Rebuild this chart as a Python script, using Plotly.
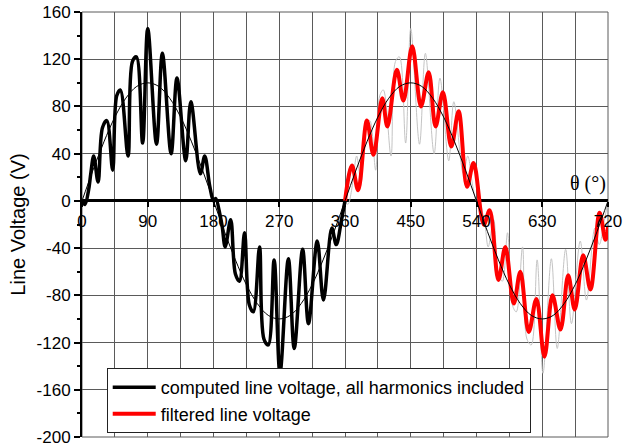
import plotly.graph_objects as go

# Computed line voltage, all harmonics (one period, 0..360 deg)
black_deg = [0, 4, 9, 12, 16, 22, 28, 34, 42, 47.5, 52.5, 63, 69, 74.5, 83, 90, 102, 110, 122, 130, 142, 149, 162, 168, 175, 180,
             183, 189, 192, 196, 203.5, 210, 215.5, 222.5, 229, 234.5, 243, 249, 255, 263, 271, 282.5, 290.5, 302, 310, 322, 330.5, 342, 348, 355.5, 360]
black_v = [0, -3, 9, 23, 38, 16, 62, 68, 26, 89, 94, 38, 118, 122, 49, 146, 48, 125, 40, 104, 34, 84, 23, 38, 12, 0,
           2, -12, -22, -39, -16, -62, -68, -27, -88, -94, -39, -117, -122, -50, -146, -49, -125, -41, -104, -34, -84, -23, -37, -15, 0]

# Filtered line voltage (360..720 deg)
red_deg = [360, 369.5, 378, 390, 399, 411, 418, 431, 440, 452, 464, 474.5, 484, 494, 505.5, 515.5, 527, 536,
           550, 558, 570, 579.5, 591, 600, 611.5, 622, 633, 644, 655, 665.5, 674.5, 686, 696, 708.5, 716.5, 720]
red_v = [0, 30, 9, 68, 39, 87, 63, 111, 85, 131, 80, 109, 63, 92, 46, 76, 12, 32,
         -20, -8, -67, -39, -87, -60, -111, -83, -132, -80, -109, -63, -92, -46, -75, -10, -33, -22]

# Fundamental (thin black), read every 15 deg
fund_deg = list(range(0, 721, 15))
fund_v = [0, 26, 50, 71, 87, 97, 100, 97, 87, 71, 50, 26,
          0, -26, -50, -71, -87, -97, -100, -97, -87, -71, -50, -26,
          0, 26, 50, 71, 87, 97, 100, 97, 87, 71, 50, 26,
          0, -26, -50, -71, -87, -97, -100, -97, -87, -71, -50, -26, 0]

x_ticks = [0, 90, 180, 270, 360, 450, 540, 630, 720]
y_ticks = [-200, -160, -120, -80, -40, 0, 40, 80, 120, 160]

FONT = "Liberation Sans, Arial, sans-serif"
GRID = "#5a5a5a"

fig = go.Figure()
# grey copy of the unfiltered waveform in the second period
fig.add_trace(go.Scatter(x=[d + 360 for d in black_deg], y=black_v, mode="lines",
                         line=dict(color="#c4c4c4", width=1, shape="spline", smoothing=1),
                         showlegend=False, hoverinfo="skip"))
fig.add_trace(go.Scatter(x=red_deg, y=red_v, mode="lines",
                         line=dict(color="#ff0000", width=4, shape="spline", smoothing=1),
                         name="filtered line voltage", legendrank=2))
fig.add_trace(go.Scatter(x=black_deg, y=black_v, mode="lines",
                         line=dict(color="#000000", width=3.5, shape="spline", smoothing=1),
                         name="computed line voltage, all harmonics included", legendrank=1))
fig.add_trace(go.Scatter(x=fund_deg, y=fund_v, mode="lines",
                         line=dict(color="#000000", width=1, shape="spline", smoothing=1),
                         showlegend=False, hoverinfo="skip"))

fig.update_layout(
    width=624, height=448,
    margin=dict(l=82, r=16, t=12, b=11, autoexpand=False),
    paper_bgcolor="white", plot_bgcolor="white",
    font=dict(family=FONT, size=17, color="black"),
    showlegend=True,
    legend=dict(x=0.047, y=0.162, xanchor="left", yanchor="top",
                bgcolor="white", bordercolor="#222", borderwidth=1,
                font=dict(size=18, family=FONT), traceorder="normal",
                itemwidth=43, tracegroupgap=0),
    xaxis=dict(range=[0, 720], tickvals=x_ticks, ticktext=[str(v) for v in x_ticks],
               showgrid=True, gridcolor=GRID, gridwidth=1, automargin=False,
               minor=dict(dtick=45, tick0=0, showgrid=True, gridcolor=GRID, gridwidth=1),
               anchor="free", position=200 / 360, showline=False, zeroline=False,
               ticks="outside", ticklen=5, tickwidth=2, tickcolor="black",
               tickfont=dict(size=17, family=FONT)),
    yaxis=dict(range=[-200, 160], tickvals=y_ticks, ticktext=[str(v) for v in y_ticks],
               showgrid=True, gridcolor=GRID, gridwidth=1, automargin=False,
               showline=True, linecolor="black", linewidth=2,
               zeroline=True, zerolinecolor="black", zerolinewidth=2.5,
               ticks="outside", ticklen=6, tickwidth=2, tickcolor="black",
               minor=dict(dtick=20, tick0=0, ticks="outside", ticklen=3, tickwidth=1.5, tickcolor="black", showgrid=False),
               tickfont=dict(size=17, family=FONT),
               title=dict(text="Line Voltage (V)", font=dict(size=20, family=FONT), standoff=6)),
    shapes=[dict(type="rect", xref="paper", yref="paper", x0=0, x1=1, y0=0, y1=1,
                 line=dict(color=GRID, width=1), layer="below")],
    annotations=[dict(x=720, y=0, xref="x", yref="y", text="θ (°)", showarrow=False,
                      xanchor="right", yanchor="bottom", xshift=0, yshift=4,
                      font=dict(family="Liberation Serif, Times New Roman, serif", size=20, color="black"))],
)

fig.write_html("out.html", config={"displayModeBar": False},
               post_script="document.body.style.margin='0';document.body.style.overflow='hidden';")
